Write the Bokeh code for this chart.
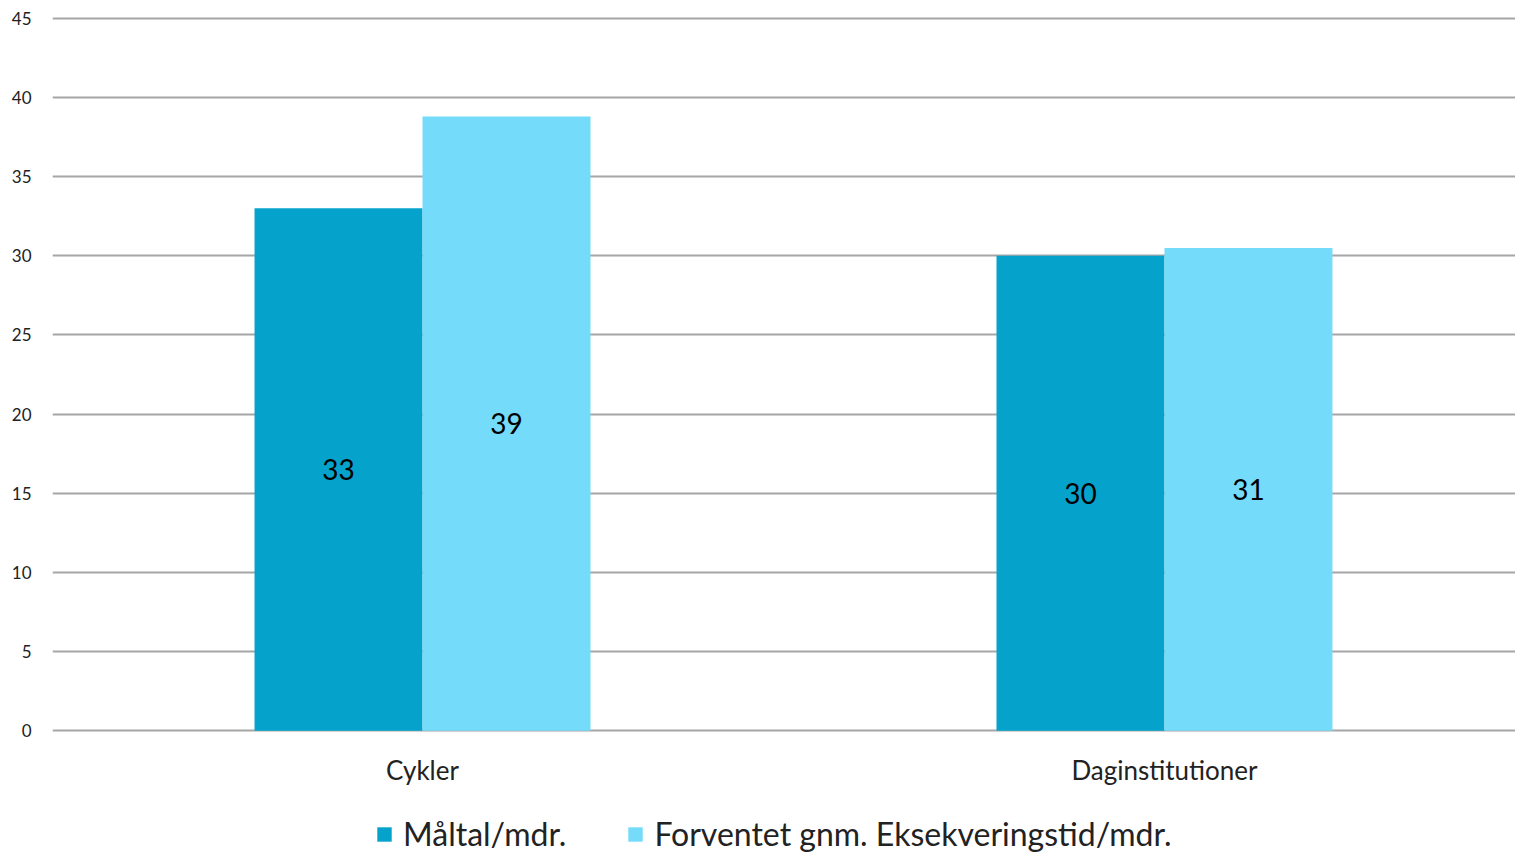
from bokeh.plotting import figure
from bokeh.models import Range1d, ColumnDataSource, Legend, LegendItem, FixedTicker, LabelSet
from bokeh.embed import file_html
from bokeh.resources import INLINE
from bokeh.core.properties import value

categories = ["Cykler", "Daginstitutioner"]
maaltal = [33.0, 30.0]
forventet = [38.8, 30.5]
y_ticks = [0, 5, 10, 15, 20, 25, 30, 35, 40, 45]
series_names = ["Måltal/mdr.", "Forventet gnm. Eksekveringstid/mdr."]

FONT = "Lato"
DARK = "#05A3CB"
LIGHT = "#75DBFA"


def rnd(v):
    return str(int(v + 0.5))


centers = [i + 0.5 for i in range(len(categories))]
off = 0.1132
bw = 0.2264
cat_label_y = -2.50

src1 = ColumnDataSource(dict(x=[c - off for c in centers], top=maaltal,
                             mid=[v / 2 for v in maaltal], lab=[rnd(v) for v in maaltal]))
src2 = ColumnDataSource(dict(x=[c + off for c in centers], top=forventet,
                             mid=[v / 2 for v in forventet], lab=[rnd(v) for v in forventet]))
src_cat = ColumnDataSource(dict(x=centers, y=[cat_label_y] * len(categories), lab=categories))

p = figure(frame_width=1463, frame_height=836, output_backend="svg", toolbar_location=None,
           x_range=Range1d(0.0013, 1.9731), y_range=Range1d(-7.70, 45.12),
           x_axis_location=None,
           min_border_left=52, min_border_right=0, min_border_top=16, min_border_bottom=0)
p.outline_line_color = None
p.background_fill_color = "white"

r1 = p.vbar(x="x", top="top", width=bw, bottom=0, source=src1, fill_color=DARK, line_color=None)
r2 = p.vbar(x="x", top="top", width=bw, bottom=0, source=src2, fill_color=LIGHT, line_color=None)

for s in (src1, src2):
    p.add_layout(LabelSet(x="x", y="mid", text="lab", source=s, text_align="center",
                          text_baseline="middle", text_font=value(FONT),
                          text_font_size="28px", text_color="black"))

p.add_layout(LabelSet(x="x", y="y", text="lab", source=src_cat, text_align="center",
                      text_baseline="middle", text_font=value(FONT),
                      text_font_size="26px", text_color="#222222"))

p.xgrid.visible = False
p.ygrid.ticker = FixedTicker(ticks=y_ticks)
p.ygrid.grid_line_color = "#A6A6A6"
p.ygrid.grid_line_width = 2
p.ygrid.level = "underlay"

p.yaxis.ticker = FixedTicker(ticks=y_ticks)
p.yaxis.axis_line_color = None
p.yaxis.major_tick_line_color = None
p.yaxis.minor_tick_line_color = None
p.yaxis.major_label_standoff = 15
p.yaxis.major_label_text_font = FONT
p.yaxis.major_label_text_font_size = "17px"
p.yaxis.major_label_text_color = "#222222"

legend = Legend(items=[LegendItem(label=series_names[0], renderers=[r1]),
                       LegendItem(label=series_names[1], renderers=[r2])],
                orientation="horizontal", location=(323, -1),
                label_text_font=FONT, label_text_font_size="32px", label_text_color="#222222",
                glyph_width=18, glyph_height=18, spacing=60, label_standoff=10,
                padding=0, margin=0, border_line_color=None, background_fill_alpha=0)
p.add_layout(legend, "center")

open("out.html", "w").write(file_html(p, INLINE))
